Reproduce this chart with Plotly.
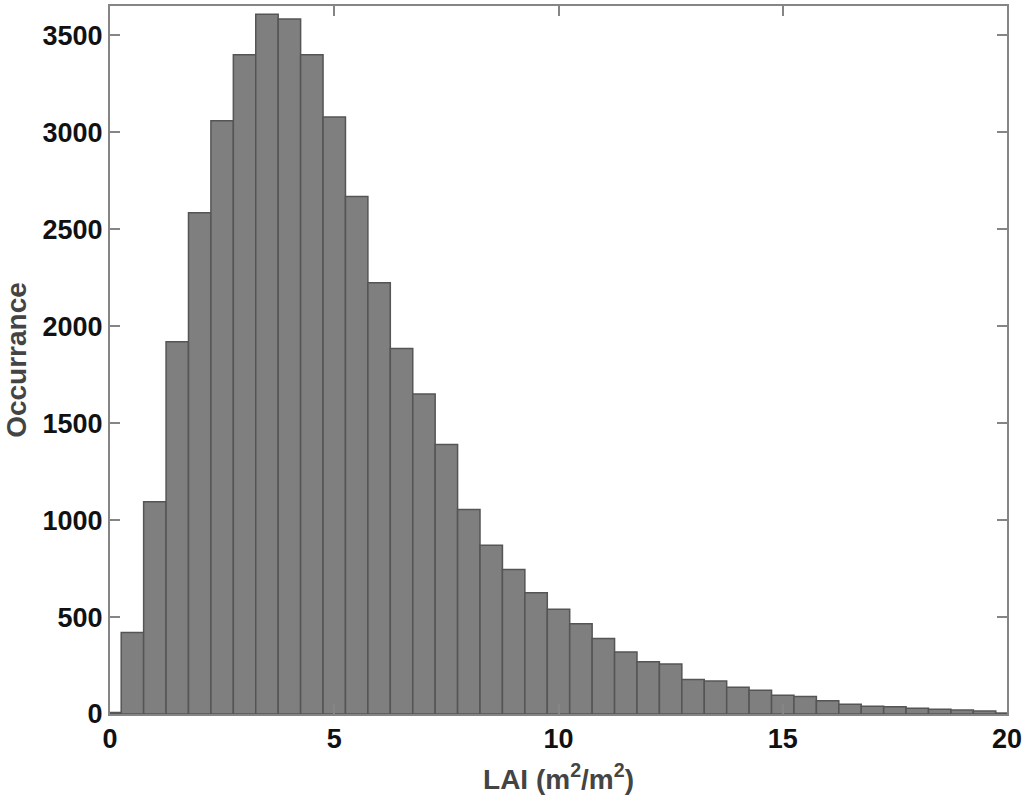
import plotly.graph_objects as go

bin_centers = [0, 0.5, 1, 1.5, 2, 2.5, 3, 3.5, 4, 4.5, 5, 5.5, 6, 6.5, 7, 7.5, 8, 8.5, 9, 9.5, 10,
               10.5, 11, 11.5, 12, 12.5, 13, 13.5, 14, 14.5, 15, 15.5, 16, 16.5, 17, 17.5, 18,
               18.5, 19, 19.5, 20]
occurrence = [8, 420, 1095, 1920, 2585, 3060, 3400, 3610, 3585, 3400, 3080, 2670, 2225, 1885, 1650,
              1390, 1055, 870, 745, 625, 540, 465, 390, 320, 270, 258, 178, 170, 138, 122, 97,
              90, 68, 50, 40, 38, 30, 25, 20, 15, 5]
x_ticks = [0, 5, 10, 15, 20]
y_ticks = [0, 500, 1000, 1500, 2000, 2500, 3000, 3500]

trace = go.Bar(
    x=bin_centers,
    y=occurrence,
    width=0.5,
    marker=dict(color='#7f7f7f', line=dict(color='#555555', width=1.5)),
)

axis_line = dict(showline=True, linecolor='#858585', linewidth=2, mirror='ticks',
                 ticks='inside', ticklen=10, tickwidth=1.5, tickcolor='#858585',
                 showgrid=False, zeroline=False, automargin=False,
                 tickfont=dict(family='Liberation Sans', size=27, color='#111111', weight='bold'))

layout = go.Layout(
    width=1024,
    height=802,
    autosize=False,
    margin=dict(l=110, r=17, t=6, b=88),
    paper_bgcolor='white',
    plot_bgcolor='white',
    showlegend=False,
    font=dict(family='Liberation Sans'),
    xaxis=dict(axis_line, range=[0, 20], tickvals=x_ticks,
               title=dict(text='LAI (m<sup>2</sup>/m<sup>2</sup>)', standoff=16,
                          font=dict(size=28, color='#444444', weight='bold'))),
    yaxis=dict(axis_line, range=[0, 3652], tickvals=y_ticks,
               title=dict(text='Occurrance', standoff=8,
                          font=dict(size=28, color='#444444', weight='bold'))),
)

fig = go.Figure(data=[trace], layout=layout)
# the page's default body margin would push the plot off the window
fig.write_html("out.html", config=dict(displayModeBar=False),
               post_script="document.body.style.margin = '0';")
